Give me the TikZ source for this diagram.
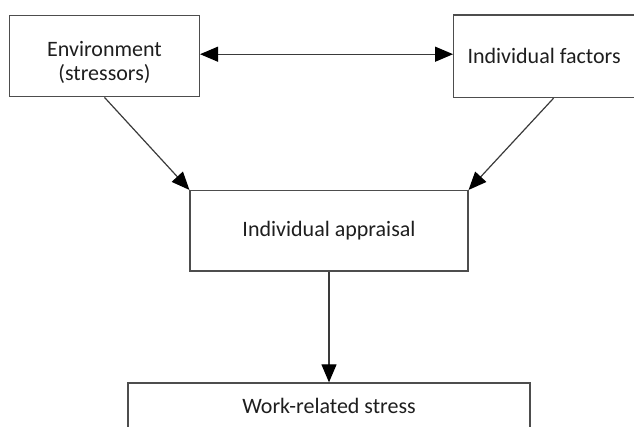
\documentclass[tikz,border=0pt]{standalone}
\usepackage{fontspec}
\setmainfont{Carlito}
\usepackage{tikz}
\usetikzlibrary{arrows.meta,positioning}
\definecolor{FRAME}{HTML}{4D4D4D}
\definecolor{INK}{HTML}{1E1E1E}
\definecolor{LINE}{HTML}{3A3A3A}

\begin{document}
\begin{tikzpicture}[->,>={Triangle[length=18pt,width=15pt,color=black]},x=1pt,y=1pt,line width=1.2pt]
	\tikzstyle{box}=[draw=FRAME,line width=1.4pt,inner sep=0pt,align=center,text=INK,font=\fontsize{22}{24}\selectfont]
	\tikzstyle{every edge}=[draw=LINE]

	\useasboundingbox (0,0) rectangle (634,-426);
	\clip (0,0) rectangle (634,-426);

	\node[box,minimum width=189.7pt,minimum height=81pt]  (env)                        at (104.5,-56.2) {\rule{0pt}{27pt}Environment\\(stressors)};
	\node[box,minimum width=180.7pt,minimum height=82.5pt] (fact) [right=253pt of env]                   {Individual factors};
	\node[box,minimum width=277.7pt,minimum height=80.3pt] (appr)                       at (329,-230.8)  {Individual appraisal};
	\node[box,minimum width=402.3pt,minimum height=45pt]   (work) [below=110.7pt of appr]                {Work-related stress};

	\path
	([yshift=2pt]env.east)     edge [<->] ([yshift=2pt]fact.west)
	(env.south)                edge       (appr.north west)
	([xshift=9.5pt]fact.south) edge       (appr.north east)
	(appr)                     edge       (work);
\end{tikzpicture}
\end{document}
